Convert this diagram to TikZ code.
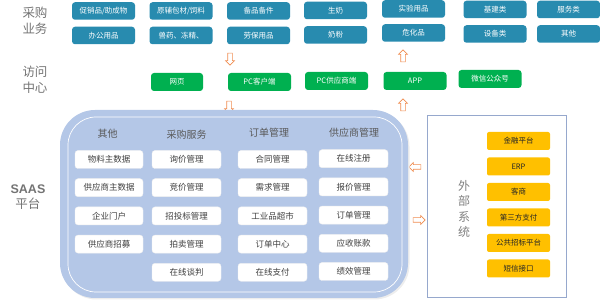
\documentclass[tikz,border=0pt]{standalone}
\usepackage{fontspec}
\setmainfont{Noto Sans CJK SC}
\newfontfamily\saasfont{Liberation Sans}
\usetikzlibrary{shapes.arrows, positioning}
\definecolor{teal1}{RGB}{40, 139, 175}
\definecolor{green1}{RGB}{0, 176, 80}
\definecolor{gold1}{RGB}{255, 192, 0}
\definecolor{saas1}{RGB}{180, 199, 231}
\definecolor{orange1}{RGB}{240, 140, 80}
\definecolor{frame1}{RGB}{150, 168, 205}

\tikzset{
  bizbox/.style={fill=teal1, text=white, rounded corners=3pt, minimum width=63pt, minimum height=17.5pt, inner sep=0pt, font=\fontsize{7.5}{8}\selectfont},
  accbox/.style={fill=green1, text=white, rounded corners=3pt, minimum width=63pt, minimum height=18pt, inner sep=0pt, font=\fontsize{7.5}{8}\selectfont},
  itembox/.style={fill=white, draw=black!6, text=black!75, rounded corners=3pt, minimum width=69pt, minimum height=18pt, inner sep=0pt, font=\fontsize{8.5}{9}\selectfont},
  extbox/.style={fill=gold1, text=black!85, rounded corners=2pt, minimum width=63pt, minimum height=18pt, inner sep=0pt, font=\fontsize{7.5}{8}\selectfont},
  colhead/.style={text=black!65, font=\fontsize{10}{11}\selectfont},
  sidelabel/.style={text=black!55, align=center, font=\fontsize{12.5}{16}\selectfont},
  hollow/.style={single arrow, draw=orange1, fill=white, line width=0.6pt, minimum height=12pt, inner sep=2pt, single arrow head extend=2.2pt, single arrow head indent=0pt},
}

\begin{document}
\begin{tikzpicture}[x=1pt, y=-1pt]
  \useasboundingbox (0,0) rectangle (600,304);

  % purchasing business
  \node[sidelabel] (biz) at (35,21) {采购\\业务};
  \node[bizbox] (b11) at (103.5,11) {促销品/助成物};
  \node[bizbox] (b12) at (103.5,35.5) {办公用品};
  \node[bizbox] (b21) at (181,11) {原辅包材/饲料};
  \node[bizbox] (b22) at (181,35.5) {兽药、冻精、};
  \node[bizbox] (b31) at (258.5,11) {备品备件};
  \node[bizbox] (b32) at (258.5,35.5) {劳保用品};
  \node[bizbox] (b41) at (335.5,10.5) {生奶};
  \node[bizbox] (b42) at (335.5,35) {奶粉};
  \node[bizbox] (b51) at (413.5,9) {实验用品};
  \node[bizbox] (b52) at (413.5,33) {危化品};
  \node[bizbox] (b61) at (495,9.5) {基建类};
  \node[bizbox] (b62) at (495,34) {设备类};
  \node[bizbox] (b71) at (568.5,9.5) {服务类};
  \node[bizbox] (b72) at (568.5,34) {其他};

  % access
  \node[sidelabel] (acc) at (35,80) {访问\\中心};
  \node[accbox, minimum width=52pt] (web) at (177,82) {网页};
  \node[accbox] (pc) at (259.5,82) {PC客户端};
  \node[accbox] (pcs) at (336.5,81) {PC供应商端};
  \node[accbox] (app) at (415,81) {APP};
  \node[accbox] (wx) at (490,79) {微信公众号};

  % hollow arrows
  \node[hollow, shape border rotate=270] (dn1) at (230,58) {};
  \node[hollow, shape border rotate=270] (dn2) at (229,106) {};
  \node[hollow, shape border rotate=90] (up1) at (403,57) {};
  \node[hollow, shape border rotate=90] (up2) at (403,106) {};
  \node[hollow, shape border rotate=180] (lt) at (416,167) {};
  \node[hollow] (rt) at (418,220) {};

  % SAAS platform
  \node[text=black!55, align=center, font=\fontsize{12.5}{15}\selectfont] (saas) at (28,197) {{\saasfont\bfseries SAAS}\\平台};
  \fill[black!7, rounded corners=35pt] (61.5,111.5) rectangle (409.5,299.5);
  \fill[saas1, rounded corners=35pt] (60,110) rectangle (408,298);
  \draw[white, line width=0.7pt, rounded corners=28pt] (68,117) rectangle (402,292);

  \node[colhead] (hA) at (107.5,134) {其他};
  \node[colhead] (hB) at (186.5,135) {采购服务};
  \node[colhead] (hC) at (269,133) {订单管理};
  \node[colhead] (hD) at (354,133) {供应商管理};
  \foreach \t [count=\i] in {物料主数据, 供应商主数据, 企业门户, 供应商招募}
    \node[itembox, minimum width=68pt] (oth\i) at (109, 131.3+28.2*\i) {\t};
  \foreach \t [count=\i] in {询价管理, 竞价管理, 招投标管理, 拍卖管理, 在线谈判}
    \node[itembox] (pur\i) at (186.5, 131.3+28.2*\i) {\t};
  \foreach \t [count=\i] in {合同管理, 需求管理, 工业品超市, 订单中心, 在线支付}
    \node[itembox] (ord\i) at (272.5, 131.3+28.2*\i) {\t};
  \foreach \t [count=\i] in {在线注册, 报价管理, 订单管理, 应收账款, 绩效管理}
    \node[itembox] (sup\i) at (353.5, 130.5+28.2*\i) {\t};

  % external systems
  \draw[frame1, line width=0.8pt] (427,115) rectangle (566,297);
  \node[text=black!50, align=center, font=\fontsize{12}{15.5}\selectfont] (ext) at (464,209) {外\\部\\系\\统};
  \foreach \t [count=\i] in {金融平台, ERP, 客商, 第三方支付, 公共招标平台, 短信接口}
    \node[extbox] (ex\i) at (518.5, 115.5+25.5*\i) {\t};
\end{tikzpicture}
\end{document}
